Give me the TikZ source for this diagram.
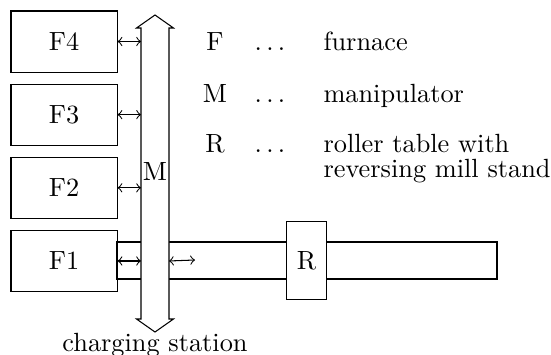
\documentclass[tikz,border=0pt]{standalone}
\usetikzlibrary{positioning}
\tikzset{
  furnacebox/.style={draw, minimum width=40.3pt, minimum height=23.2pt, inner sep=0pt},
  standbox/.style={draw, fill=white, minimum width=15.2pt, minimum height=29.3pt, inner sep=0pt},
  shuttle/.style={<->},
  keytext/.style={anchor=base, inner sep=0pt}
}
\begin{document}
\begin{tikzpicture}[x=0.38pt, y=-0.38pt, node distance=4.2pt]
\useasboundingbox (0,0) rectangle (551,354);
% furnaces
\node[furnacebox] (f4) at (64,41.5) {F4};
\node[furnacebox, below=of f4] (f3) {F3};
\node[furnacebox, below=of f3] (f2) {F2};
\node[furnacebox, below=of f2] (f1) {F1};

% roller table
\draw (117,242) rectangle (497,279);

% manipulator track
\draw[fill=white] (141,28) -- (136.5,28) -- (155,15) -- (173.5,28) -- (169,28)
  -- (169,319) -- (173.5,319) -- (155,332) -- (136.5,319) -- (141,319) -- cycle;
\node (m) at (155,172) {M};
\coordinate (shaftl) at (141,0);
\coordinate (shaftr) at (169,0);
\coordinate (tableend) at (195,260);

\node[standbox] (r) at (306.5,260.5) {R};

\draw[shuttle] (f4.east) -- (f4.east -| shaftl);
\draw[shuttle] (f3.east) -- (f3.east -| shaftl);
\draw[shuttle] (f2.east) -- (f2.east -| shaftl);
\draw[shuttle] (f1.east) -- (f1.east -| shaftl);
\draw[shuttle] (f1.east -| shaftr) -- (tableend);

\node[anchor=base] (cs) at (155,351) {charging station};

% legend
\node[keytext] (kf) at (215,50) {F};
\node[keytext] (kfdots) at (270,50) {$\dots$};
\node[keytext, anchor=base west] (kftext) at (323,50) {furnace};
\node[keytext] (km) at (215,102) {M};
\node[keytext] (kmdots) at (270,102) {$\dots$};
\node[keytext, anchor=base west] (kmtext) at (323,102) {manipulator};
\node[keytext] (kr) at (215,152) {R};
\node[keytext] (krdots) at (270,152) {$\dots$};
\node[keytext, anchor=base west, align=left] (krtext) at (323,177)
  {roller table with\\[-2.5pt]reversing mill stand};
\end{tikzpicture}
\end{document}
